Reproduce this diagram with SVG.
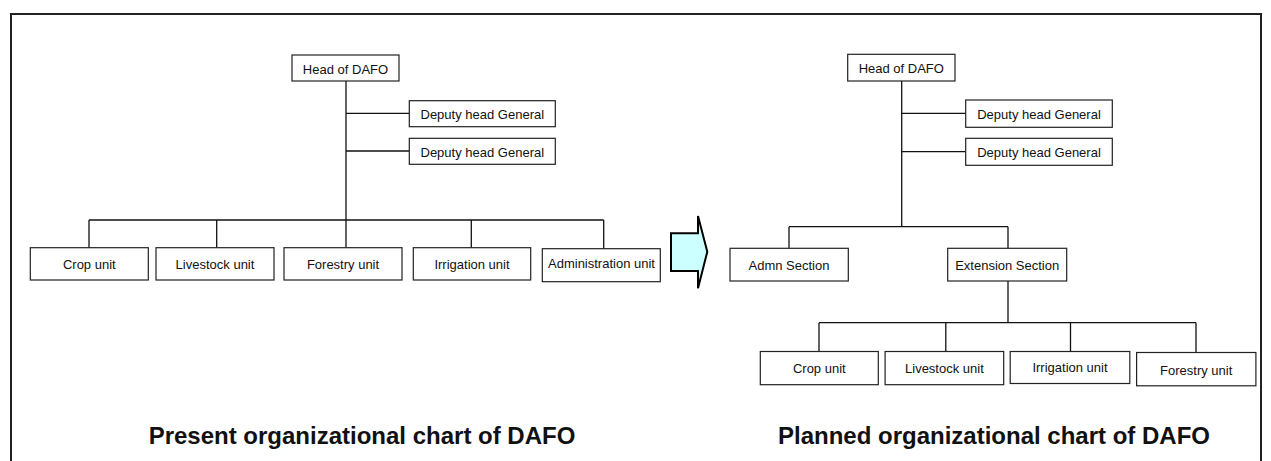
<svg xmlns="http://www.w3.org/2000/svg" width="1271" height="461" viewBox="0 0 1271 461">
  <style>
    .box { fill: #ffffff; stroke: #222222; stroke-width: 1.2; }
    .lbl { font-family: "Liberation Sans", Arial, sans-serif; font-size: 13px; fill: #111111; text-anchor: middle; }
    .title { font-family: "Liberation Sans", Arial, sans-serif; font-size: 24px; font-weight: bold; fill: #111111; text-anchor: middle; }
    .wire { fill: none; stroke: #111111; stroke-width: 1.3; }
  </style>

  <rect x="0" y="0" width="1271" height="461" fill="#ffffff"/>
  <!-- outer frame (open at the bottom edge of the page) -->
  <rect x="11" y="14" width="1250" height="470" fill="none" stroke="#222222" stroke-width="2"/>

  <!-- connectors -->
  <g id="connectors" class="wire">
    <!-- present chart -->
    <path d="M346,81 V247.7"/>
    <path d="M346,113.3 H409.3 M346,151 H409.3"/>
    <path d="M89,220 H603.7"/>
    <path d="M89,220 V247.7 M216.7,220 V247.7 M471.3,220 V247.7 M603.7,220 V248.7"/>
    <!-- planned chart -->
    <path d="M901.7,81 V226.7"/>
    <path d="M901.7,113.3 H965.7 M901.7,151.7 H965.7"/>
    <path d="M789,226.7 H1008 M789,226.7 V248.3 M1008,226.7 V248.3"/>
    <path d="M1008,281 V322.7"/>
    <path d="M819,322.7 H1196"/>
    <path d="M819,322.7 V351.5 M945.8,322.7 V351.5 M1070.5,322.7 V351.5 M1196,322.7 V352.5"/>
  </g>

  <!-- present organizational chart -->
  <g id="p-head"><rect class="box" x="292" y="55" width="107" height="26"/><text class="lbl" x="345.5" y="73.5">Head of DAFO</text></g>
  <g id="p-deputy1"><rect class="box" x="409.3" y="100.7" width="146" height="26"/><text class="lbl" x="482.3" y="119.2">Deputy head General</text></g>
  <g id="p-deputy2"><rect class="box" x="409.3" y="138.3" width="146" height="26"/><text class="lbl" x="482.3" y="156.8">Deputy head General</text></g>
  <g id="p-crop"><rect class="box" x="30.3" y="247.7" width="118" height="32.3"/><text class="lbl" x="89.3" y="269.3">Crop unit</text></g>
  <g id="p-livestock"><rect class="box" x="156" y="247.7" width="118" height="32.3"/><text class="lbl" x="215" y="269.3">Livestock unit</text></g>
  <g id="p-forestry"><rect class="box" x="284" y="247.7" width="118" height="32.3"/><text class="lbl" x="343" y="269.3">Forestry unit</text></g>
  <g id="p-irrigation"><rect class="box" x="413.3" y="247.7" width="117.4" height="32.3"/><text class="lbl" x="472" y="269.3">Irrigation unit</text></g>
  <g id="p-admin"><rect class="box" x="542.3" y="248.7" width="118" height="33"/><text class="lbl" x="601.5" y="267.7">Administration unit</text></g>

  <!-- transition arrow -->
  <g id="arrow">
    <polygon points="671,233.3 698,233.3 698,216 707.3,251.7 698,288.3 698,271 671,271" fill="#ccffff" stroke="#000000" stroke-width="2" stroke-linejoin="miter"/>
  </g>

  <!-- planned organizational chart -->
  <g id="n-head"><rect class="box" x="847.7" y="54.3" width="107.3" height="26.7"/><text class="lbl" x="901.3" y="73.3">Head of DAFO</text></g>
  <g id="n-deputy1"><rect class="box" x="965.7" y="100" width="146.6" height="27.3"/><text class="lbl" x="1039" y="119">Deputy head General</text></g>
  <g id="n-deputy2"><rect class="box" x="965.7" y="138.3" width="146.6" height="27"/><text class="lbl" x="1039" y="157">Deputy head General</text></g>
  <g id="n-admn"><rect class="box" x="730" y="248.3" width="118.3" height="32.7"/><text class="lbl" x="789" y="270">Admn Section</text></g>
  <g id="n-extension"><rect class="box" x="947.7" y="248.3" width="119" height="32.7"/><text class="lbl" x="1007.2" y="270">Extension Section</text></g>
  <g id="n-crop"><rect class="box" x="760.3" y="351.5" width="118" height="33.2"/><text class="lbl" x="819.3" y="372.9">Crop unit</text></g>
  <g id="n-livestock"><rect class="box" x="885.1" y="351.5" width="118.6" height="33.2"/><text class="lbl" x="944.4" y="372.5">Livestock unit</text></g>
  <g id="n-irrigation"><rect class="box" x="1010.2" y="351.5" width="119.6" height="32"/><text class="lbl" x="1070" y="372">Irrigation unit</text></g>
  <g id="n-forestry"><rect class="box" x="1136.6" y="352.5" width="119.3" height="33.3"/><text class="lbl" x="1196.2" y="374.6">Forestry unit</text></g>

  <!-- chart captions -->
  <text class="title" x="362" y="444">Present organizational chart of DAFO</text>
  <text class="title" x="994" y="444">Planned organizational chart of DAFO</text>
</svg>
